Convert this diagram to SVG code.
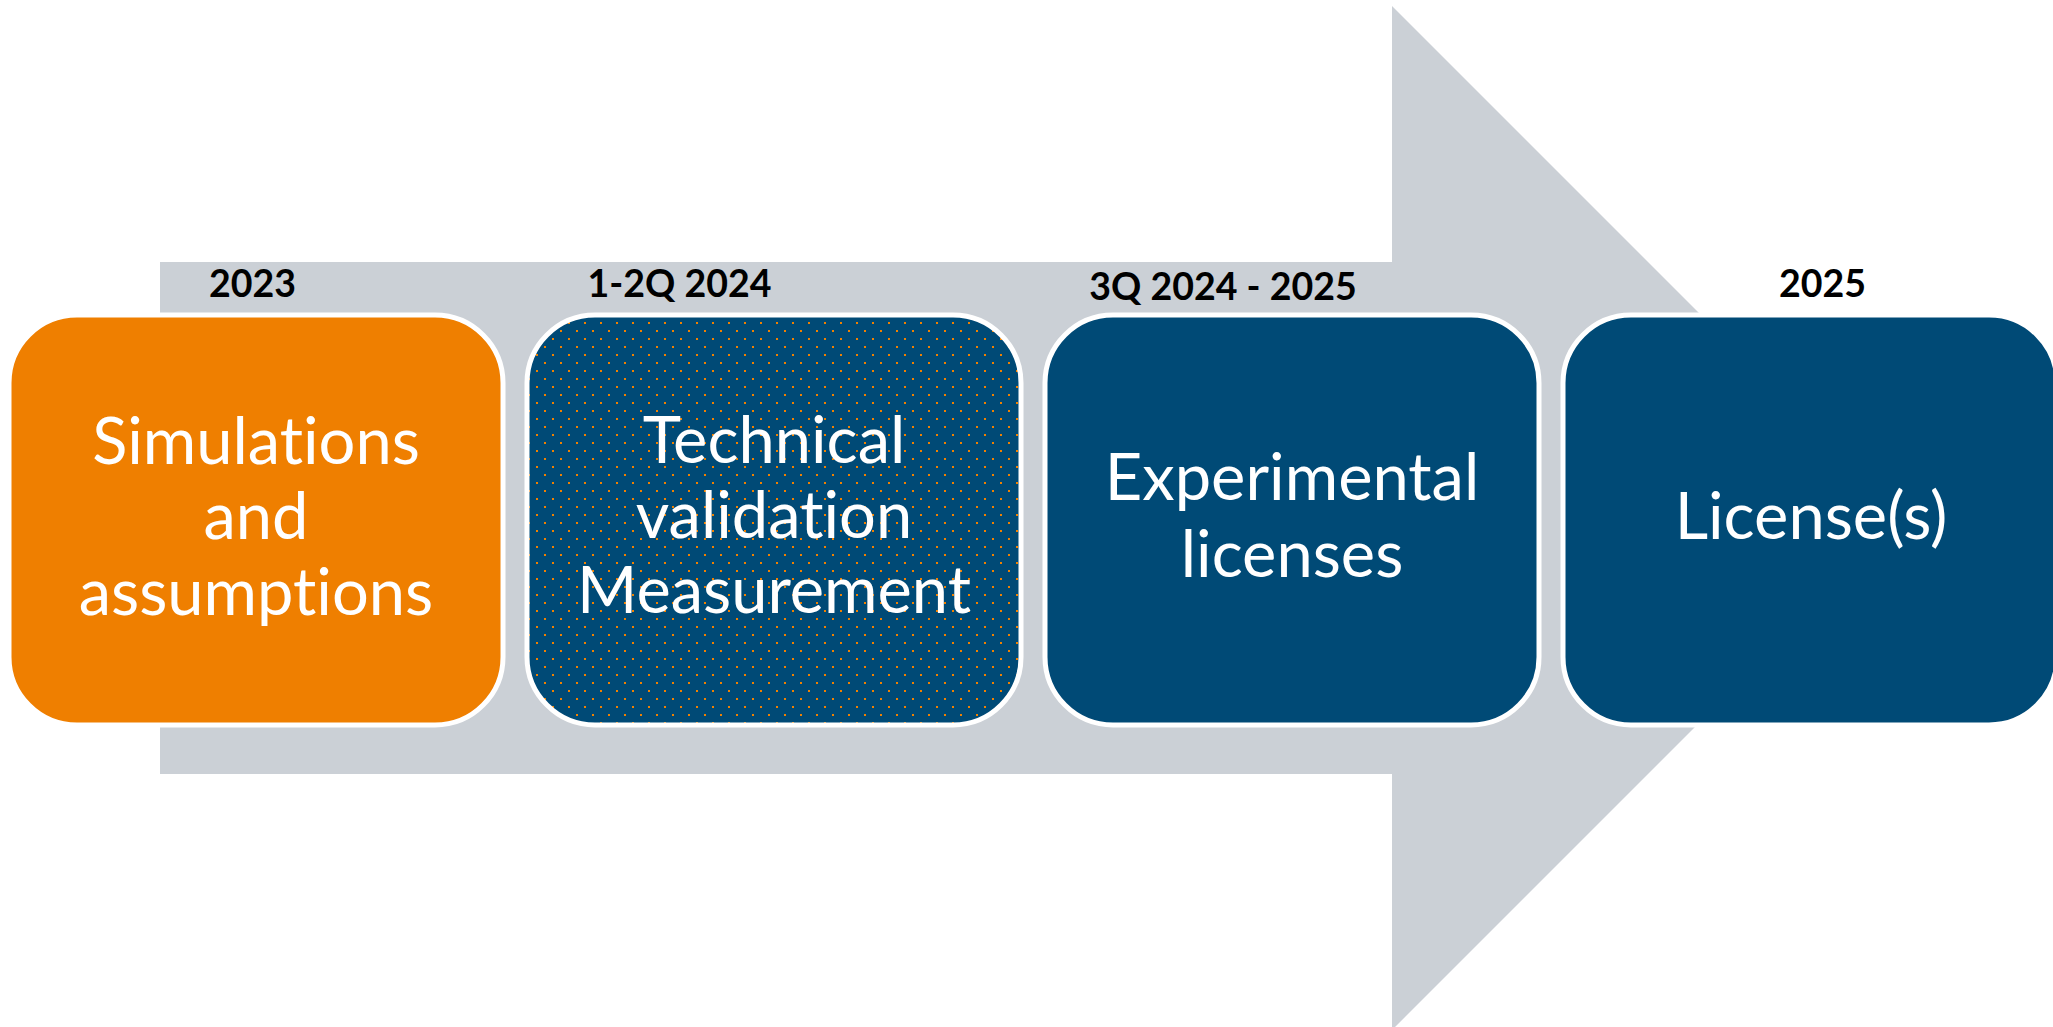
<svg xmlns="http://www.w3.org/2000/svg" width="2053" height="1027" viewBox="0 0 2053 1027">
  <style>
    .box { stroke: #ffffff; stroke-width: 5; }
    .orange { fill: #EF7F00; }
    .blue { fill: #004A76; }
    .dots { fill: url(#dotPattern); }
    .label { font-family: Lato, "Liberation Sans", sans-serif; font-size: 65px; fill: #ffffff; text-anchor: middle; font-variant-ligatures: none; font-feature-settings: "liga" 0, "clig" 0; }
    .year { font-family: Lato, "Liberation Sans", sans-serif; font-size: 37.5px; font-weight: 700; fill: #000000; text-anchor: middle; font-variant-ligatures: none; }
  </style>
  <defs>
    <pattern id="dotPattern" patternUnits="userSpaceOnUse" x="0" y="0" width="16" height="16">
      <rect x="0" y="0" width="16" height="16" fill="#004A76"/>
      <rect x="8" y="2" width="2" height="2" fill="#F08000"/>
      <rect x="0" y="10" width="2" height="2" fill="#F08000"/>
    </pattern>
  </defs>
  <rect x="0" y="0" width="2053" height="1027" fill="#ffffff"/>

  <g id="timeline-arrow">
    <polygon points="160,262 1392,262 1392,6 1904,518 1392,1030 1392,774 160,774" fill="#CBD0D6"/>
  </g>

  <g id="year-labels">
    <text class="year" x="252.5" y="297">2023</text>
    <text class="year" x="679.5" y="297">1-2Q 2024</text>
    <text class="year" x="1223" y="300">3Q 2024 - 2025</text>
    <text class="year" x="1822.5" y="297">2025</text>
  </g>

  <g id="node-simulations">
    <rect class="box orange" x="9" y="315" width="494" height="410" rx="68" ry="68"/>
    <text class="label" x="256" y="464">Simulations</text>
    <text class="label" x="256" y="539">and</text>
    <text class="label" x="256" y="615">assumptions</text>
  </g>

  <g id="node-technical-validation">
    <rect class="box dots" x="527" y="315" width="494" height="410" rx="68" ry="68"/>
    <text class="label" x="774" y="463">Technical</text>
    <text class="label" x="774" y="538">validation</text>
    <text class="label" x="774" y="613">Measurement</text>
  </g>

  <g id="node-experimental-licenses">
    <rect class="box blue" x="1045" y="315" width="494" height="410" rx="68" ry="68"/>
    <text class="label" x="1292" y="500">Experimental</text>
    <text class="label" x="1292" y="577">licenses</text>
  </g>

  <g id="node-licenses">
    <rect class="box blue" x="1563" y="315" width="494" height="410" rx="68" ry="68"/>
    <text class="label" x="1811" y="539">License(s)</text>
  </g>
</svg>
